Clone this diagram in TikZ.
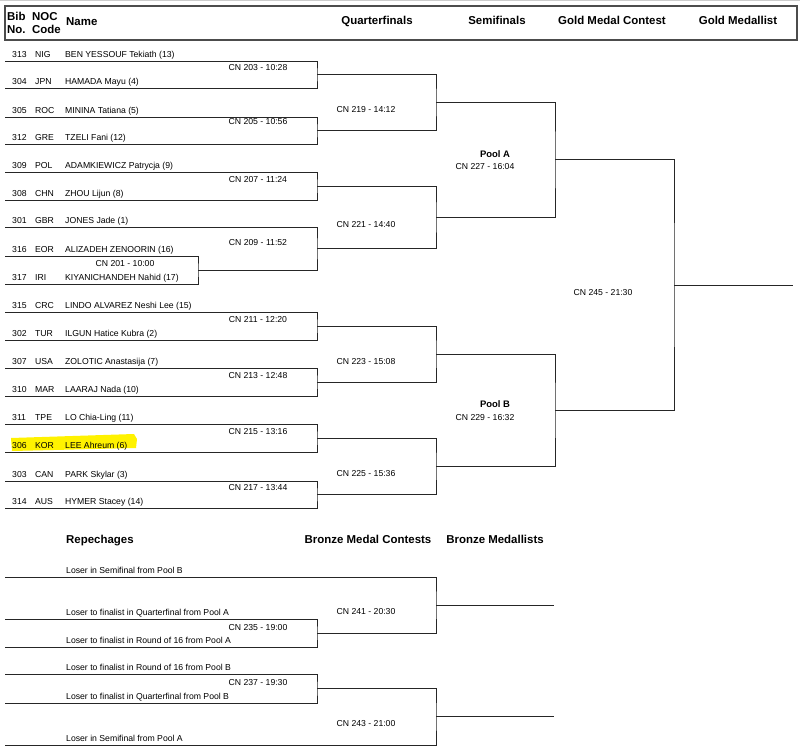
\documentclass[tikz,border=0pt]{standalone}
\usepackage{fontspec}
\setmainfont{Liberation Sans}
\newcommand{\entrant}[3]{\makebox[23bp][l]{#1}\makebox[30bp][l]{#2}#3}

\begin{document}
\begin{tikzpicture}[x=1bp, y=-1bp]
    % Define styles
    \tikzstyle{entry} = [anchor=base west, inner sep=0pt, font=\fontsize{8.7}{10}\selectfont]
    \tikzstyle{match} = [anchor=base, inner sep=0pt, font=\fontsize{8.7}{10}\selectfont]
    \tikzstyle{head} = [anchor=base, inner sep=0pt, font=\bfseries\fontsize{11.5}{13}\selectfont]
    \tikzstyle{pool} = [anchor=base, inner sep=0pt, font=\bfseries\fontsize{9.5}{11}\selectfont]
    \tikzstyle{bracket} = [draw=black!85, line width=0.9bp]

    \useasboundingbox (0,0) rectangle (800,751);
    \fill[black!20] (0,0) rectangle (800,1.5);

    % Header
    \draw[draw=black!70, line width=1.2bp] (5,6) rectangle (797,40);
    \node[head, anchor=base west] (bib) at (7,21) {Bib};
    \node[head, anchor=base west] (bibno) at (7,34) {No.};
    \node[head, anchor=base west] (noc) at (32,21) {NOC};
    \node[head, anchor=base west] (noccode) at (32,34) {Code};
    \node[head, anchor=base west] (name) at (66,26) {Name};
    \node[head] (qfhead) at (377,25) {Quarterfinals};
    \node[head] (sfhead) at (497,25) {Semifinals};
    \node[head] (gmchead) at (612,25) {Gold Medal Contest};
    \node[head] (gmhead) at (738,25) {Gold Medallist};

    % Highlight
    \fill[yellow] (11,438) -- (134,434) -- (137,439) -- (136,448) -- (12,451) -- cycle;

    % Entrants
    \coordinate (e313) at (5,61);
    \coordinate (e304) at (5,88);
    \coordinate (e305) at (5,117);
    \coordinate (e312) at (5,144);
    \coordinate (e309) at (5,172);
    \coordinate (e308) at (5,200);
    \coordinate (e301) at (5,227);
    \coordinate (e316) at (5,256);
    \coordinate (e317) at (5,284);
    \coordinate (e315) at (5,312);
    \coordinate (e302) at (5,340);
    \coordinate (e307) at (5,368);
    \coordinate (e310) at (5,396);
    \coordinate (e311) at (5,424);
    \coordinate (e306) at (5,452);
    \coordinate (e303) at (5,481);
    \coordinate (e314) at (5,508);

    \node[entry] (a313) at (12,57.5) {\entrant{313}{NIG}{BEN YESSOUF Tekiath (13)}};
    \node[entry] (a304) at (12,84.5) {\entrant{304}{JPN}{HAMADA Mayu (4)}};
    \node[entry] (a305) at (12,113.5) {\entrant{305}{ROC}{MININA Tatiana (5)}};
    \node[entry] (a312) at (12,140.5) {\entrant{312}{GRE}{TZELI Fani (12)}};
    \node[entry] (a309) at (12,168.5) {\entrant{309}{POL}{ADAMKIEWICZ Patrycja (9)}};
    \node[entry] (a308) at (12,196.5) {\entrant{308}{CHN}{ZHOU Lijun (8)}};
    \node[entry] (a301) at (12,223.5) {\entrant{301}{GBR}{JONES Jade (1)}};
    \node[entry] (a316) at (12,252.5) {\entrant{316}{EOR}{ALIZADEH ZENOORIN (16)}};
    \node[entry] (a317) at (12,280.5) {\entrant{317}{IRI}{KIYANICHANDEH Nahid (17)}};
    \node[entry] (a315) at (12,308.5) {\entrant{315}{CRC}{LINDO ALVAREZ Neshi Lee (15)}};
    \node[entry] (a302) at (12,336.5) {\entrant{302}{TUR}{ILGUN Hatice Kubra (2)}};
    \node[entry] (a307) at (12,364.5) {\entrant{307}{USA}{ZOLOTIC Anastasija (7)}};
    \node[entry] (a310) at (12,392.5) {\entrant{310}{MAR}{LAARAJ Nada (10)}};
    \node[entry] (a311) at (12,420.5) {\entrant{311}{TPE}{LO Chia-Ling (11)}};
    \node[entry] (a306) at (12,448.5) {\entrant{306}{KOR}{LEE Ahreum (6)}};
    \node[entry] (a303) at (12,477.5) {\entrant{303}{CAN}{PARK Skylar (3)}};
    \node[entry] (a314) at (12,504.5) {\entrant{314}{AUS}{HYMER Stacey (14)}};

    % Winner points
    \coordinate (w201) at (198,270);
    \coordinate (w203) at (317,74.5);
    \coordinate (w205) at (317,130.5);
    \coordinate (w207) at (317,186);
    \coordinate (w209) at (317,248.5);
    \coordinate (w211) at (317,326);
    \coordinate (w213) at (317,382);
    \coordinate (w215) at (317,438);
    \coordinate (w217) at (317,494.5);
    \coordinate (w219) at (436,102.5);
    \coordinate (w221) at (436,217.25);
    \coordinate (w223) at (436,354);
    \coordinate (w225) at (436,466.25);
    \coordinate (w227) at (555,159.9);
    \coordinate (w229) at (555,410.1);
    \coordinate (w245) at (674,285);
    \coordinate (gold) at (793,285);

    % Brackets
    \draw[bracket] (e316) -| (w201) |- (e317);
    \draw[bracket] (e313) -| (w203) |- (e304);
    \draw[bracket] (e305) -| (w205) |- (e312);
    \draw[bracket] (e309) -| (w207) |- (e308);
    \draw[bracket] (e301) -| (w209) |- (w201);
    \draw[bracket] (e315) -| (w211) |- (e302);
    \draw[bracket] (e307) -| (w213) |- (e310);
    \draw[bracket] (e311) -| (w215) |- (e306);
    \draw[bracket] (e303) -| (w217) |- (e314);
    \draw[bracket] (w203) -| (w219) |- (w205);
    \draw[bracket] (w207) -| (w221) |- (w209);
    \draw[bracket] (w211) -| (w223) |- (w213);
    \draw[bracket] (w215) -| (w225) |- (w217);
    \draw[bracket] (w219) -| (w227) |- (w221);
    \draw[bracket] (w223) -| (w229) |- (w225);
    \draw[bracket] (w227) -| (w245) |- (w229);
    \draw[bracket] (w245) -- (gold);

    % Contest labels
    \node[match] (m201) at (125,266) {CN 201 - 10:00};
    \node[match] (m203) at (258,71) {CN 203 - 10:28};
    \node[match] (m205) at (258,124) {CN 205 - 10:56};
    \node[match] (m207) at (258,182) {CN 207 - 11:24};
    \node[match] (m209) at (258,245) {CN 209 - 11:52};
    \node[match] (m211) at (258,322) {CN 211 - 12:20};
    \node[match] (m213) at (258,378) {CN 213 - 12:48};
    \node[match] (m215) at (258,434) {CN 215 - 13:16};
    \node[match] (m217) at (258,490) {CN 217 - 13:44};
    \node[match] (m219) at (366,112) {CN 219 - 14:12};
    \node[match] (m221) at (366,227) {CN 221 - 14:40};
    \node[match] (m223) at (366,364) {CN 223 - 15:08};
    \node[match] (m225) at (366,476) {CN 225 - 15:36};
    \node[pool] (poola) at (495,157.5) {Pool A};
    \node[match] (m227) at (485,169) {CN 227 - 16:04};
    \node[pool] (poolb) at (495,407.5) {Pool B};
    \node[match] (m229) at (485,420) {CN 229 - 16:32};
    \node[match] (m245) at (603,295) {CN 245 - 21:30};

    % Repechages
    \node[head, anchor=base west] (rephead) at (66,543) {Repechages};
    \node[head] (bmchead) at (368,543) {Bronze Medal Contests};
    \node[head] (bmhead) at (495,543) {Bronze Medallists};

    \coordinate (rsfb) at (5,577);
    \coordinate (rqfa) at (5,619);
    \coordinate (rr16a) at (5,647);
    \coordinate (rr16b) at (5,674);
    \coordinate (rqfb) at (5,703);
    \coordinate (rsfa) at (5,745);
    \coordinate (w235) at (317,633);
    \coordinate (w237) at (317,688.5);
    \coordinate (w241) at (436,605);
    \coordinate (w243) at (436,716.75);
    \coordinate (bronze1) at (554,605);
    \coordinate (bronze2) at (554,716.75);

    \node[entry] (lsfb) at (66,573.5) {Loser in Semifinal from Pool B};
    \node[entry] (lqfa) at (66,615.5) {Loser to finalist in Quarterfinal from Pool A};
    \node[entry] (lr16a) at (66,643.5) {Loser to finalist in Round of 16 from Pool A};
    \node[entry] (lr16b) at (66,670.5) {Loser to finalist in Round of 16 from Pool B};
    \node[entry] (lqfb) at (66,699.5) {Loser to finalist in Quarterfinal from Pool B};
    \node[entry] (lsfa) at (66,741.5) {Loser in Semifinal from Pool A};

    \draw[bracket] (rqfa) -| (w235) |- (rr16a);
    \draw[bracket] (rr16b) -| (w237) |- (rqfb);
    \draw[bracket] (rsfb) -| (w241) |- (w235);
    \draw[bracket] (w237) -| (w243) |- (rsfa);
    \draw[bracket] (w241) -- (bronze1);
    \draw[bracket] (w243) -- (bronze2);

    \node[match] (m235) at (258,630) {CN 235 - 19:00};
    \node[match] (m237) at (258,685) {CN 237 - 19:30};
    \node[match] (m241) at (366,614) {CN 241 - 20:30};
    \node[match] (m243) at (366,726) {CN 243 - 21:00};
\end{tikzpicture}
\end{document}
